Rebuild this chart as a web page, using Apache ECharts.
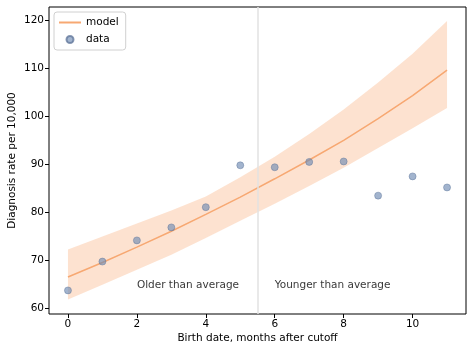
<!DOCTYPE html>
<html>
<head>
<meta charset="utf-8">
<script src="https://cdn.jsdelivr.net/npm/echarts@6/dist/echarts.min.js"></script>
<style>
  html, body { margin: 0; padding: 0; background: #fff; }
  #chart { width: 472px; height: 352px; }
</style>
</head>
<body>
<div id="chart"></div>
<script>
// months after cutoff
const months = [0, 1, 2, 3, 4, 5, 6, 7, 8, 9, 10, 11];
// observed diagnosis rates
const observed = [63.8, 69.8, 74.2, 76.9, 81.1, 89.8, 89.4, 90.5, 90.6, 83.5, 87.5, 85.2];
// model fit and its band
const modelMid = [66.6, 69.6, 72.8, 76.1, 79.6, 83.2, 87.0, 90.9, 95.0, 99.5, 104.3, 109.6];
const modelUpper = [72.3, 75.0, 77.7, 80.4, 83.3, 87.3, 91.6, 96.3, 101.4, 107.0, 113.0, 119.8];
const modelLower = [61.9, 65.0, 68.1, 71.2, 74.7, 78.3, 81.8, 85.5, 89.3, 93.4, 97.5, 101.7];
const xTicks = [0, 2, 4, 6, 8, 10];
const yTicks = [60, 70, 80, 90, 100, 110, 120];
const cutoff = 5.5;
const notes = [
  { x: 2, y: 64.8, text: 'Older than average' },
  { x: 6, y: 64.8, text: 'Younger than average' }
];

const font = 'DejaVu Sans';
const fs = 10.5;
const chart = echarts.init(document.getElementById('chart'), null, { renderer: 'canvas' });

const bandData = months.map((m, i) => [m, modelLower[i], modelUpper[i]]);

const option = {
  animation: false,
  textStyle: { fontFamily: font },
  grid: {
    left: 49, right: 6, top: 7, bottom: 38,
    outerBoundsMode: 'none', containLabel: false,
    show: true, borderColor: '#000', borderWidth: 1, backgroundColor: 'transparent'
  },
  legend: {
    left: 54, top: 12, orient: 'vertical',
    itemWidth: 22, itemHeight: 7, itemGap: 6,
    padding: [5, 7, 5, 4],
    borderColor: '#d0d0d0', borderWidth: 1, borderRadius: 3,
    backgroundColor: 'rgba(255,255,255,0.8)',
    textStyle: { fontFamily: font, fontSize: fs, color: '#000' },
    data: [
      { name: 'model', itemStyle: { opacity: 0 } },
      { name: 'data', icon: 'circle' }
    ]
  },
  xAxis: {
    type: 'value', min: -0.55, max: 11.55,
    name: 'Birth date, months after cutoff', nameLocation: 'middle', nameGap: 19,
    nameMoveOverlap: false,
    nameTextStyle: { fontFamily: font, fontSize: fs, color: '#000' },
    axisLine: { show: false, onZero: false },
    splitLine: { show: false },
    axisTick: { show: true, length: 4, lineStyle: { color: '#000' }, customValues: xTicks },
    axisLabel: { fontFamily: font, fontSize: fs, color: '#000', margin: 5, customValues: xTicks }
  },
  yAxis: {
    type: 'value', min: 58.9, max: 122.7,
    name: 'Diagnosis rate per 10,000', nameLocation: 'middle', nameGap: 31,
    nameMoveOverlap: false,
    nameTextStyle: { fontFamily: font, fontSize: fs, color: '#000' },
    axisLine: { show: false, onZero: false },
    splitLine: { show: false },
    axisTick: { show: true, length: 4, lineStyle: { color: '#000' }, customValues: yTicks },
    axisLabel: { fontFamily: font, fontSize: fs, color: '#000', margin: 5, customValues: yTicks }
  },
  series: [
    {
      name: 'band',
      type: 'custom',
      silent: true,
      z: 1,
      data: bandData,
      renderItem: (params, api) => {
        if (params.dataIndex !== 0) return null;
        const top = bandData.map(d => api.coord([d[0], d[2]]));
        const bottom = bandData.map(d => api.coord([d[0], d[1]])).reverse();
        return {
          type: 'polygon',
          shape: { points: top.concat(bottom) },
          style: { fill: 'rgba(250, 160, 100, 0.3)', stroke: 'none' }
        };
      },
      encode: { x: 0, y: [1, 2] }
    },
    {
      name: 'model',
      type: 'line',
      z: 3,
      symbol: 'none',
      data: months.map((m, i) => [m, modelMid[i]]),
      lineStyle: { color: '#f7a872', width: 1.5 },
      itemStyle: { color: '#f7a872' },
      markLine: {
        silent: true,
        symbol: 'none',
        label: { show: false },
        lineStyle: { color: '#e2e2e2', width: 1.5, type: 'solid' },
        data: [{ xAxis: cutoff }]
      }
    },
    {
      name: 'data',
      type: 'scatter',
      z: 4,
      symbolSize: 7,
      data: months.map((m, i) => [m, observed[i]]),
      itemStyle: { color: 'rgba(110, 138, 178, 0.8)', borderColor: 'rgba(90, 112, 150, 0.9)', borderWidth: 0.6 }
    },
    {
      name: 'notes',
      type: 'scatter',
      symbolSize: 0,
      silent: true,
      data: notes.map(n => ({ value: [n.x, n.y], text: n.text })),
      label: {
        show: true, position: 'right', distance: 0,
        fontFamily: font, fontSize: fs, color: '#000',
        formatter: p => p.data.text
      }
    }
  ]
};

chart.setOption(option);
</script>
</body>
</html>
